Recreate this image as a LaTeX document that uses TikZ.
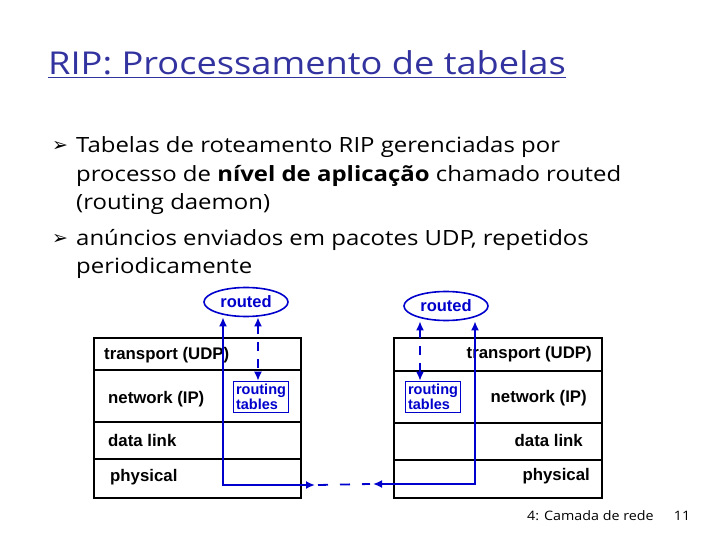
\documentclass[tikz,border=0pt]{standalone}
\usepackage{fontspec}
\setmainfont{Open Sans}[FakeStretch=1.14]
\newfontfamily\titlef{Open Sans}[FakeStretch=1.15]
\newfontfamily\footf{Open Sans}[FakeStretch=1.1]
\newfontfamily\arialf{Liberation Sans}
\newfontfamily\dejavu{DejaVu Sans}
\usetikzlibrary{shapes.geometric,arrows.meta}
\definecolor{titleblue}{HTML}{3333A0}
\definecolor{lineblue}{HTML}{0000CC}
\begin{document}
\begin{tikzpicture}[x=1pt,y=-1pt,
  body/.style={anchor=base west, inner sep=0pt, font=\fontsize{21}{24}\selectfont},
  bul/.style={anchor=base west, inner sep=0pt, font=\dejavu\fontsize{19}{20}\selectfont},
  lay/.style={inner sep=0pt, font=\arialf\bfseries\fontsize{16.8}{19}\selectfont},
  rtd/.style={ellipse, draw=lineblue, line width=1.6pt, minimum width=84pt, minimum height=29pt, inner sep=0pt,
      text=lineblue, font=\arialf\bfseries\fontsize{16.5}{18}\selectfont},
  tbl/.style={draw=lineblue, line width=1.4pt, text=lineblue, align=left, inner sep=2.5pt,
      font=\arialf\bfseries\fontsize{14.5}{15.5}\selectfont},
  stk/.style={draw=black, line width=1.6pt},
  sep/.style={draw=black, line width=1.1pt},
  blu/.style={draw=lineblue, line width=1.8pt},
  foot/.style={inner sep=0pt, font=\footf\fontsize{13}{15}\selectfont}
]
\useasboundingbox (0,0) rectangle (720,540);

% title
\node[anchor=base west, inner sep=0pt, text=titleblue, font=\titlef\fontsize{31.5}{36}\selectfont] (title) at (48,75) {\underline{RIP: Processamento de tabelas}};

% bullets
\node[bul] (b1) at (52,152) {➢};
\node[body] (t1) at (76,153) {Tabelas de roteamento RIP gerenciadas por};
\node[body] (t2) at (76,182) {processo de \textbf{nível de aplicação} chamado routed};
\node[body] (t3) at (76,210) {(routing daemon)};
\node[bul] (b2) at (52,244) {➢};
\node[body] (t4) at (76,245) {anúncios enviados em pacotes UDP, repetidos};
\node[body] (t5) at (76,273) {periodicamente};

% left stack
\draw[stk] (94,338) rectangle (301,498);
\draw[black, line width=2.6pt] (94,370) -- (301,370);
\draw[sep] (94,422) -- (302,422);
\draw[sep] (94,459) -- (302,459);
\node[lay, anchor=west] (L1) at (104,355) {transport (UDP)};
\node[lay, anchor=west] (L2) at (108,399) {network (IP)};
\node[lay, anchor=west] (L3) at (108,440) {data link};
\node[lay, anchor=west] (L4) at (110,477) {physical};
\node[tbl] (tL) at (261,397) {routing\\tables};
\node[rtd] (rL) at (246,302) {routed};

% right stack
\draw[stk] (394,338) rectangle (602,498);
\draw[black, line width=2.6pt] (394,371) -- (602,371);
\draw[sep] (394,423) -- (602,423);
\draw[sep] (394,460) -- (602,460);
\node[lay, anchor=east] (R1) at (592,354) {transport (UDP)};
\node[lay, anchor=east] (R2) at (587,398) {network (IP)};
\node[lay, anchor=east] (R3) at (583,440) {data link};
\node[lay, anchor=east] (R4) at (590,476) {physical};
\node[tbl] (tR) at (433,397) {routing\\tables};
\node[rtd] (rR) at (446,306) {routed};

% connectors
\coordinate (aL) at (223,485);
\coordinate (pL) at (315,485);
\coordinate (aR) at (475,484);
\coordinate (pR) at (373,484);
\coordinate (dL) at (258,350);
\coordinate (dR) at (420,350);

\draw[blu, {Latex[length=9pt,width=8pt]}-{Latex[length=9pt,width=8pt]}] (aL |- rL.south) -- (aL) -- (pL);
\draw[blu, {Latex[length=9pt,width=8pt]}-{Latex[length=9pt,width=8pt]}] (aR |- rR.south) -- (aR) -- (pR);
\draw[blu, dash pattern=on 10pt off 12pt] ([xshift=3pt]pL) -- ([xshift=-3pt]pR);
\draw[blu, dash pattern=on 9pt off 8pt, {Latex[length=9pt,width=8pt]}-{Latex[length=9pt,width=8pt]}] (dL |- rL.south) -- (dL |- tL.north);
\draw[blu, dash pattern=on 9pt off 8pt, {Latex[length=9pt,width=8pt]}-{Latex[length=9pt,width=8pt]}] (dR |- rR.south) -- (dR |- tR.north);

% footer
\node[foot, anchor=west] (f1) at (527,516) {4: Camada de rede};
\node[foot] (f2) at (682,516) {11};
\end{tikzpicture}
\end{document}
